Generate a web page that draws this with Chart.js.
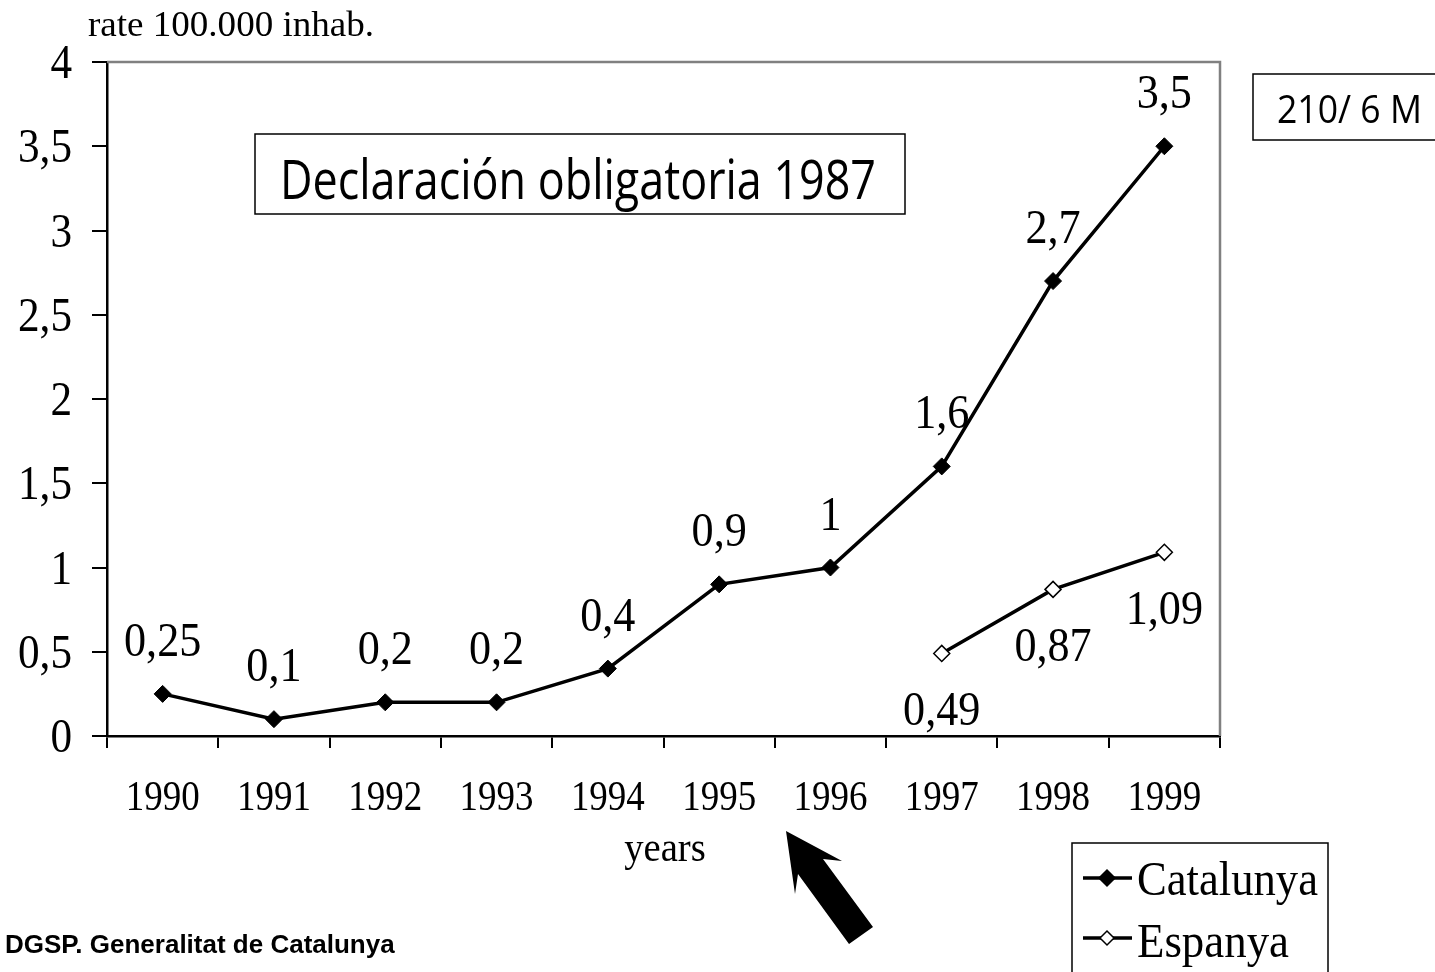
<!DOCTYPE html>
<html>
<head>
<meta charset="utf-8">
<script src="https://cdn.jsdelivr.net/npm/chart.js@4.4.1/dist/chart.umd.min.js"></script>
<style>
  html, body { margin: 0; padding: 0; background: #fff; }
  canvas { display: block; }
</style>
</head>
<body>
<canvas id="grafic" width="1435" height="972"></canvas>
<script>
// dades
const years = ['1990', '1991', '1992', '1993', '1994', '1995', '1996', '1997', '1998', '1999'];
const catalunya = [0.25, 0.1, 0.2, 0.2, 0.4, 0.9, 1, 1.6, 2.7, 3.5];
const espanya = [null, null, null, null, null, null, null, 0.49, 0.87, 1.09];
const yTicks = [0, 0.5, 1, 1.5, 2, 2.5, 3, 3.5, 4];

const SERIF = '"Liberation Serif", "Times New Roman", serif';
const SANS = '"Open Sans", "Noto Sans", "DejaVu Sans", sans-serif';

const comma = v => String(v).replace('.', ',');

// text amb amplada opcional o escala horitzontal
function txt(ctx, s, x, y, font, align, w, sx) {
    ctx.save();
    ctx.font = font;
    ctx.fillStyle = '#000';
    ctx.textBaseline = 'alphabetic';
    ctx.textAlign = align || 'left';
    let k = sx || 1;
    if (w) k = w / ctx.measureText(s).width;
    ctx.translate(x, y);
    ctx.scale(k, 1);
    ctx.fillText(s, 0, 0);
    ctx.restore();
}

function diamond(ctx, x, y, r, fill) {
    ctx.beginPath();
    ctx.moveTo(x - r, y);
    ctx.lineTo(x, y - r);
    ctx.lineTo(x + r, y);
    ctx.lineTo(x, y + r);
    ctx.closePath();
    ctx.fillStyle = fill;
    ctx.fill();
    ctx.lineWidth = 1.5;
    ctx.strokeStyle = '#000';
    ctx.stroke();
}

const extras = {
    id: 'extras',
    beforeDatasetsDraw(chart) {
        const ctx = chart.ctx;
        const a = chart.chartArea;
        // vora superior i dreta en gris
        ctx.save();
        ctx.strokeStyle = '#808080';
        ctx.lineWidth = 2.5;
        ctx.beginPath();
        ctx.moveTo(a.left, a.top);
        ctx.lineTo(a.right, a.top);
        ctx.lineTo(a.right, a.bottom);
        ctx.stroke();
        ctx.restore();
    },
    afterDraw(chart) {
        const ctx = chart.ctx;
        const sx = chart.scales.x, sy = chart.scales.y;

        // etiquetes dels eixos
        yTicks.forEach(v => {
            txt(ctx, comma(v), 72, sy.getPixelForValue(v) + 16, '48px ' + SERIF, 'right', null, 0.9);
        });
        years.forEach((y, i) => {
            txt(ctx, y, sx.getPixelForValue(i), 810, '42px ' + SERIF, 'center', null, 0.88);
        });

        // etiquetes de valors
        chart.getDatasetMeta(0).data.forEach((p, i) => {
            txt(ctx, comma(catalunya[i]), p.x, p.y - 38, '48px ' + SERIF, 'center', null, 0.92);
        });
        chart.getDatasetMeta(1).data.forEach((p, i) => {
            if (espanya[i] == null) return;
            txt(ctx, comma(espanya[i]), p.x, p.y + 72, '48px ' + SERIF, 'center', null, 0.92);
        });

        // textos
        txt(ctx, 'rate 100.000 inhab.', 88, 36, '36px ' + SERIF, 'left', 286);
        txt(ctx, 'years', 665, 861, '42px ' + SERIF, 'center', null, 0.92);
        txt(ctx, 'DGSP. Generalitat de Catalunya', 5, 953, 'bold 26px "Liberation Sans", Arial, sans-serif', 'left');

        // quadres
        ctx.save();
        ctx.lineWidth = 1.5;
        ctx.strokeStyle = '#000';
        ctx.strokeRect(255, 134, 650, 80);
        ctx.strokeRect(1253, 74, 200, 66);
        ctx.strokeRect(1072, 843, 256, 150);
        ctx.restore();
        txt(ctx, 'Declaración obligatoria 1987', 280, 199, '54px ' + SANS, 'left', 596);
        txt(ctx, '210/ 6 M', 1277, 123, '38px ' + SANS, 'left', 145);

        // llegenda
        ctx.save();
        ctx.strokeStyle = '#000';
        ctx.lineWidth = 3.5;
        ctx.beginPath();
        ctx.moveTo(1083, 878); ctx.lineTo(1132, 878);
        ctx.moveTo(1083, 938); ctx.lineTo(1132, 938);
        ctx.stroke();
        diamond(ctx, 1107, 878, 8, '#000');
        diamond(ctx, 1107, 938, 7, '#fff');
        ctx.restore();
        txt(ctx, 'Catalunya', 1137, 895, '48px ' + SERIF, 'left', 181);
        txt(ctx, 'Espanya', 1137, 957, '48px ' + SERIF, 'left', 152);

        // fletxa
        ctx.save();
        ctx.fillStyle = '#000';
        ctx.beginPath();
        ctx.moveTo(786, 831);
        ctx.lineTo(842, 861);
        ctx.lineTo(823, 859);
        ctx.lineTo(873, 927);
        ctx.lineTo(849, 944);
        ctx.lineTo(798, 874);
        ctx.lineTo(795, 894);
        ctx.closePath();
        ctx.fill();
        ctx.restore();
    }
};

const grafic = new Chart(document.getElementById('grafic'), {
    type: 'line',
    data: {
        labels: years,
        datasets: [{
            label: 'Catalunya',
            data: catalunya,
            borderColor: '#000',
            borderWidth: 3.5,
            pointStyle: 'rectRot',
            pointRadius: 8.5,
            pointBackgroundColor: '#000',
            pointBorderColor: '#000',
            pointBorderWidth: 1,
            tension: 0
        }, {
            label: 'Espanya',
            data: espanya,
            borderColor: '#000',
            borderWidth: 3.5,
            pointStyle: 'rectRot',
            pointRadius: 8,
            pointBackgroundColor: '#fff',
            pointBorderColor: '#000',
            pointBorderWidth: 1.5,
            tension: 0,
            spanGaps: false
        }]
    },
    options: {
        responsive: false,
        devicePixelRatio: 1,
        animation: false,
        layout: { padding: { top: 62, right: 215, left: 0, bottom: 0 } },
        plugins: {
            legend: { display: false },
            tooltip: { enabled: false }
        },
        scales: {
            x: {
                offset: true,
                grid: {
                    offset: true,
                    drawOnChartArea: false,
                    drawTicks: true,
                    tickLength: 12,
                    color: '#000',
                    lineWidth: 2
                },
                border: { display: true, color: '#000', width: 2.5 },
                ticks: { display: false },
                afterFit(scale) { scale.height = 236; }
            },
            y: {
                min: 0,
                max: 4,
                afterBuildTicks(scale) { scale.ticks = yTicks.map(v => ({ value: v })); },
                grid: {
                    drawOnChartArea: false,
                    drawTicks: true,
                    tickLength: 15,
                    color: '#000',
                    lineWidth: 2
                },
                border: { display: true, color: '#000', width: 2.5 },
                ticks: { display: false },
                afterFit(scale) { scale.width = 107; }
            }
        }
    },
    plugins: [extras]
});
</script>
</body>
</html>
